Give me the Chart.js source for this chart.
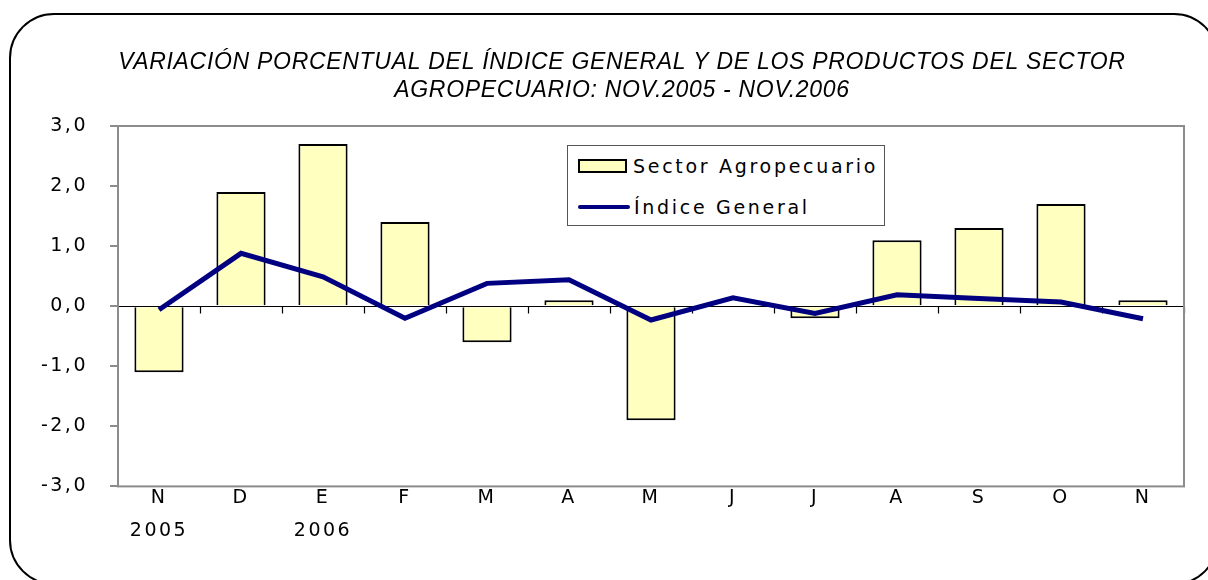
<!DOCTYPE html>
<html>
<head>
<meta charset="utf-8">
<script src="https://cdn.jsdelivr.net/npm/chart.js@4/dist/chart.umd.min.js"></script>
<style>
  body { margin: 0; background: #fff; }
  #wrap { position: relative; width: 1208px; height: 580px; overflow: hidden; }
  #frame {
    position: absolute; left: 9px; top: 13px; width: 1210px; height: 572px;
    box-sizing: border-box; border: 2px solid #000; border-radius: 45px;
    pointer-events: none;
  }
  #legend {
    position: absolute; left: 567px; top: 145px; width: 318px; height: 81px;
    box-sizing: border-box; border: 1px solid #555; background: #fff;
    font-family: 'DejaVu Sans', Verdana, sans-serif; font-size: 19px; letter-spacing: 2.7px;
  }
  .item { position: absolute; left: 10px; display: flex; align-items: center; white-space: nowrap; }
  .sw { display: inline-block; box-sizing: border-box; margin-right: 6px; }
</style>
</head>
<body>
<div id="wrap">
  <canvas id="chart" width="1208" height="580"></canvas>
  <div id="legend"></div>
  <div id="frame"></div>
</div>
<script>
const months = [['N', '2005'], ['D', ''], ['E', '2006'], ['F', ''], ['M', ''], ['A', ''], ['M', ''],
                ['J', ''], ['J', ''], ['A', ''], ['S', ''], ['O', ''], ['N', '']];
const sectorAgro = [-1.1, 1.9, 2.7, 1.4, -0.6, 0.1, -1.9, 0.0, -0.2, 1.1, 1.3, 1.7, 0.1];
const indiceGeneral = [-0.06, 0.88, 0.49, -0.2, 0.38, 0.44, -0.23, 0.14, -0.12, 0.19, 0.13, 0.07, -0.21];
const yTicks = [-3, -2, -1, 0, 1, 2, 3];
const titleLines = ['VARIACIÓN PORCENTUAL DEL ÍNDICE GENERAL Y DE LOS PRODUCTOS DEL SECTOR',
                    'AGROPECUARIO: NOV.2005 - NOV.2006'];

const barFill = '#FFFFC0';
const lineColor = '#000080';
const axisGray = '#8c8c8c';

// wider text spacing for tick labels, like the original rendering
const spacing = {
  id: 'spacing',
  beforeDraw(chart) { chart.ctx.letterSpacing = '2.5px'; },
  afterDraw(chart) { chart.ctx.letterSpacing = '0px'; }
};

// two-line title, centred a bit left of the plot like the original
const chartTitle = {
  id: 'chartTitle',
  afterDraw(chart) {
    const { ctx, chartArea: a } = chart;
    const cx = (a.left + a.right) / 2 - 29;
    ctx.save();
    ctx.letterSpacing = '0.7px';
    ctx.font = "italic 23px 'Liberation Sans', Arial, sans-serif";
    ctx.fillStyle = '#000';
    ctx.textAlign = 'center';
    ctx.textBaseline = 'middle';
    titleLines.forEach((t, i) => ctx.fillText(t, cx, a.top - 63 + i * 28));
    ctx.restore();
  }
};

// frame of plot area + zero axis with category ticks
const plotFrame = {
  id: 'plotFrame',
  beforeDatasetsDraw(chart) {
    const { ctx, chartArea: a, scales: { y } } = chart;
    const y0 = Math.round(y.getPixelForValue(0)) + 0.5;
    const step = (a.right - a.left) / months.length;
    ctx.save();
    ctx.strokeStyle = '#000';
    ctx.lineWidth = 1.2;
    ctx.beginPath();
    ctx.moveTo(a.left, y0);
    ctx.lineTo(a.right, y0);
    for (let i = 1; i <= months.length; i++) {
      const px = Math.round(a.left + i * step) + 0.5;
      ctx.moveTo(px, y0);
      ctx.lineTo(px, y0 + 7);
    }
    ctx.stroke();
    ctx.restore();
  },
  afterDraw(chart) {
    const { ctx, chartArea: a } = chart;
    ctx.save();
    ctx.strokeStyle = axisGray;
    ctx.lineWidth = 2;
    ctx.strokeRect(a.left, a.top, a.right - a.left, a.bottom - a.top);
    ctx.restore();
  }
};

const ctx = document.getElementById('chart').getContext('2d');
const chart = new Chart(ctx, {
  data: {
    labels: months,
    datasets: [
      {
        type: 'line',
        label: 'Índice General',
        data: indiceGeneral,
        borderColor: lineColor,
        backgroundColor: lineColor,
        borderWidth: 5,
        pointRadius: 0,
        tension: 0,
        order: 0
      },
      {
        type: 'bar',
        label: 'Sector Agropecuario',
        data: sectorAgro,
        backgroundColor: barFill,
        borderColor: '#000',
        borderWidth: 2,
        barPercentage: 0.6,
        categoryPercentage: 1,
        order: 1
      }
    ]
  },
  options: {
    responsive: false,
    animation: false,
    layout: { padding: { left: 20, right: 24, top: 126, bottom: 37 } },
    plugins: {
      legend: { display: false },
      tooltip: { enabled: false },
      title: { display: false }
    },
    scales: {
      x: {
        grid: { display: false, drawTicks: false },
        border: { display: false },
        ticks: {
          color: '#000',
          padding: -4,
          maxRotation: 0,
          font: { family: "'DejaVu Sans', Verdana, sans-serif", size: 19, lineHeight: 1.7 }
        }
      },
      y: {
        min: -3,
        max: 3,
        afterBuildTicks: axis => { axis.ticks = yTicks.map(v => ({ value: v })); },
        afterFit: axis => { axis.width = 98; },
        grid: { drawOnChartArea: false, drawTicks: true, tickLength: 8, color: axisGray, lineWidth: 2 },
        border: { display: true, color: axisGray, width: 2 },
        ticks: {
          color: '#000',
          padding: 22,
          font: { family: "'DejaVu Sans', Verdana, sans-serif", size: 19 },
          callback: v => v.toFixed(1).replace('.', ',')
        }
      }
    }
  },
  plugins: [spacing, plotFrame, chartTitle]
});

// HTML legend built from the datasets (bar first, like the original)
const legendEl = document.getElementById('legend');
[chart.data.datasets[1], chart.data.datasets[0]].forEach((ds, i) => {
  const row = document.createElement('div');
  row.className = 'item';
  row.style.top = i === 0 ? '9px' : '50px';
  const sw = document.createElement('span');
  sw.className = 'sw';
  if (ds.type === 'bar') {
    sw.style.width = '49px'; sw.style.height = '14px';
    sw.style.background = ds.backgroundColor; sw.style.border = '2px solid #000';
  } else {
    sw.style.width = '52px'; sw.style.height = '4px'; sw.style.background = ds.borderColor;
    sw.style.borderRadius = '2px'; sw.style.marginRight = '4px';
  }
  row.appendChild(sw);
  row.appendChild(document.createTextNode(ds.label));
  legendEl.appendChild(row);
});
</script>
</body>
</html>
